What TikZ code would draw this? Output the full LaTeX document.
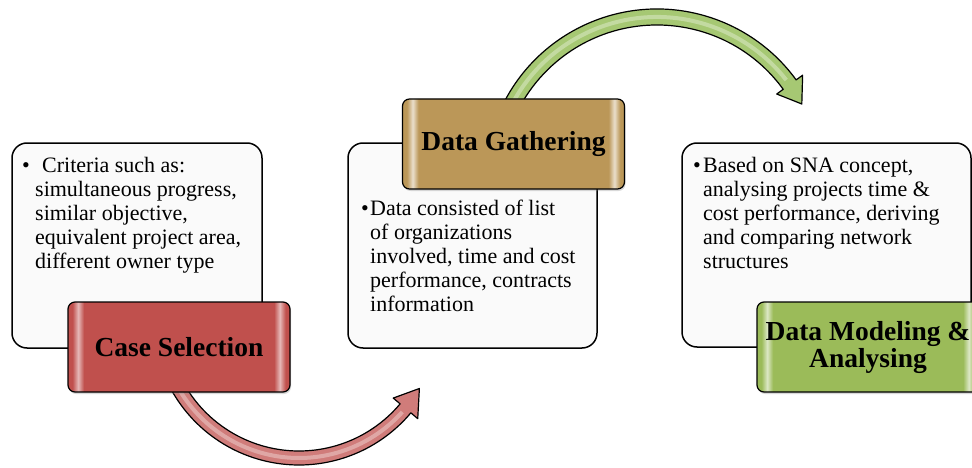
\documentclass[tikz,border=0pt]{standalone}
\usepackage{fontspec}
\setmainfont{Liberation Serif}
\usetikzlibrary{calc,shadows}

\definecolor{caseRed}{HTML}{C0504D}
\definecolor{gatherTan}{HTML}{BB9758}
\definecolor{modelGreen}{HTML}{9BBB59}
\definecolor{redBand}{HTML}{D07C7A}
\definecolor{greenBand}{HTML}{A6C873}

\pgfdeclarehorizontalshading{redbevel}{100bp}{color(0bp)=(caseRed); color(26bp)=(caseRed); color(27.3bp)=(caseRed!40!white); color(28.6bp)=(caseRed); color(71.4bp)=(caseRed); color(72.7bp)=(caseRed!40!white); color(74bp)=(caseRed); color(100bp)=(caseRed)}
\pgfdeclarehorizontalshading{tanbevel}{100bp}{color(0bp)=(gatherTan); color(26bp)=(gatherTan); color(27.3bp)=(gatherTan!30!white); color(28.6bp)=(gatherTan); color(71.4bp)=(gatherTan); color(72.7bp)=(gatherTan!30!white); color(74bp)=(gatherTan); color(100bp)=(gatherTan)}
\pgfdeclarehorizontalshading{greenbevel}{100bp}{color(0bp)=(modelGreen); color(26bp)=(modelGreen); color(27.3bp)=(modelGreen!35!white); color(28.6bp)=(modelGreen); color(71.4bp)=(modelGreen); color(72.7bp)=(modelGreen!35!white); color(74bp)=(modelGreen); color(100bp)=(modelGreen)}

\tikzset{
    infobox/.style = {draw, line width=1.5pt, rounded corners=15pt, fill=black!2, inner sep=0pt},
    headbox/.style = {draw, line width=1.2pt, rounded corners=7pt, minimum width=222pt, minimum height=90pt,
                      inner sep=0pt, align=center, font=\fontsize{27.5}{27}\selectfont\bfseries,
                      drop shadow={shadow xshift=1pt, shadow yshift=-2pt, opacity=.3}},
    bullettext/.style = {anchor=base west, inner sep=0pt, font=\fontsize{22}{24}\selectfont},
    band/.style = {draw, line width=1.2pt, line join=round}
}

\begin{document}
\begin{tikzpicture}[x=1pt,y=1pt]
        \useasboundingbox (0,0) rectangle (972,467);

        \coordinate (RC) at (299,148);
        \coordinate (GC) at (657,286);

        \draw [band, fill=redBand] ($(RC)+(205:146)$) arc[start angle=205, end angle=320, radius=146]
            -- ($(RC)+(320:155)$) -- ($(RC)+(330:139)$) -- ($(RC)+(320:123)$)
            -- ($(RC)+(320:132)$) arc[start angle=320, end angle=205, radius=132] -- cycle;
        \draw [band, fill=greenBand] ($(GC)+(160:172)$) arc[start angle=160, end angle=36, radius=172]
            -- ($(GC)+(36:180)$) -- ($(GC)+(28:164)$) -- ($(GC)+(36:148)$)
            -- ($(GC)+(36:156)$) arc[start angle=36, end angle=160, radius=156] -- cycle;
        \draw [line width=4pt, redBand!45!white, opacity=.6] ($(RC)+(205:139)$) arc[start angle=205, end angle=318, radius=139];
        \draw [line width=4pt, greenBand!45!white, opacity=.6] ($(GC)+(160:164)$) arc[start angle=160, end angle=38, radius=164];

        \node [infobox, minimum width=250pt, minimum height=205pt] (CB) at (137, 221.5) {};
        \node [infobox, minimum width=249pt, minimum height=205pt] (GB) at (472.5, 221.5) {};
        \node [infobox, minimum width=289pt, minimum height=204pt] (MB) at (826.5, 222) {};

        \node [bullettext] (CT) at (22, 295) {\begin{tabular}[t]{@{}l@{}l@{}}
            \makebox[13pt][l]{\textbullet} & \hspace{7pt}Criteria such as:\\
            & simultaneous progress,\\
            & similar objective,\\
            & equivalent project area,\\
            & different owner type
        \end{tabular}};
        \node [bullettext] (GT) at (361, 252) {\begin{tabular}[t]{@{}l@{}l@{}}
            \makebox[9pt][l]{\textbullet} & Data consisted of list\\
            & of organizations\\
            & involved, time and cost\\
            & performance, contracts\\
            & information
        \end{tabular}};
        \node [bullettext] (MT) at (693, 295) {\begin{tabular}[t]{@{}l@{}l@{}}
            \makebox[10pt][l]{\textbullet} & Based on SNA concept,\\
            & analysing projects time \&\\
            & cost performance, deriving\\
            & and comparing network\\
            & structures
        \end{tabular}};

        \node [headbox, shading=redbevel] (CH) at (179, 120) {Case Selection};
        \node [headbox, shading=tanbevel] (GH) at (513.5, 323) {Data Gathering};
        \node [headbox, shading=greenbevel] (MH) at (868, 120) {Data Modeling \&\\ Analysing};
    \end{tikzpicture}
\end{document}
